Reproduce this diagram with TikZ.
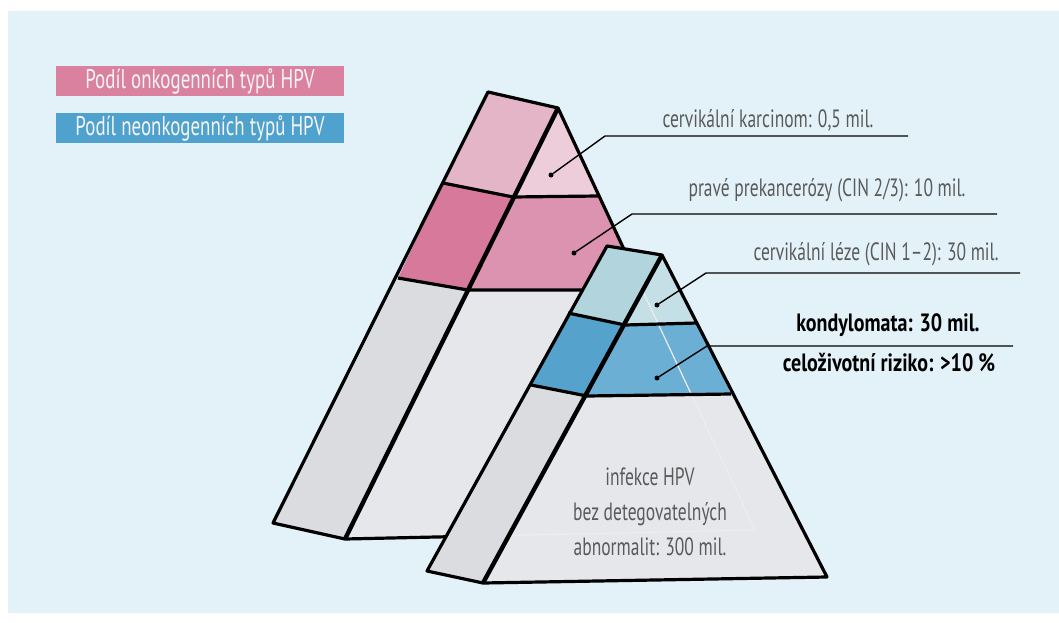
\documentclass[tikz,border=0pt]{standalone}
\usepackage{fontspec}
\setmainfont{PT Sans}[FakeStretch=0.70]
\newfontfamily\widefont{PT Sans}[FakeStretch=0.80]
\usepackage{tikz}

\definecolor{bgblue}{HTML}{E3F1F9}
\definecolor{legpink}{HTML}{D9819F}
\definecolor{legblue}{HTML}{4FA2CD}
\definecolor{pinkA}{HTML}{E3B5C7}
\definecolor{pinkAf}{HTML}{EDCDDA}
\definecolor{pinkB}{HTML}{D7799B}
\definecolor{pinkBf}{HTML}{DB93AF}
\definecolor{tealA}{HTML}{B2D4DC}
\definecolor{tealAf}{HTML}{C4DFE5}
\definecolor{blueB}{HTML}{55A2CC}
\definecolor{blueBf}{HTML}{6BAFD5}
\definecolor{graySide}{HTML}{DADCE0}
\definecolor{grayFront}{HTML}{E5E7EA}
\definecolor{labelgray}{HTML}{5A5A5A}

\begin{document}
\begin{tikzpicture}[x=1pt, y=-1pt, line join=round,
    outline/.style={draw=black, line width=3.2pt},
    ridge/.style={draw=black, line width=4.4pt},
    leader/.style={draw=black, line width=1.4pt},
    dot/.style={circle, fill=black, inner sep=0pt, minimum size=5pt},
    lbl/.style={text=labelgray, inner sep=0pt, font=\fontsize{25}{28}\selectfont},
    boldlbl/.style={text=black, inner sep=0pt, font=\widefont\fontsize{25}{28}\selectfont\bfseries},
    legend/.style={minimum width=288pt, minimum height=30pt, inner sep=0pt,
        text=white!92!gray, font=\fontsize{27}{30}\selectfont}]
    \useasboundingbox (0,0) rectangle (1059,623);
    \fill[white] (0,0) rectangle (1059,623);
    \fill[bgblue] (8,11) rectangle (1059,613);

    % Legend
    \node[legend, fill=legpink] (legOnko) at (200,81) {Podíl onkogenních typů HPV};
    \node[legend, fill=legblue] (legNeo) at (200,128) {Podíl neonkogenních typů HPV};

    % Large pyramid (oncogenic types)
    \fill[pinkA] (488,92) -- (558,108) -- (513,197) -- (443,183) -- cycle;
    \fill[pinkB] (443,183) -- (513,197) -- (468,290) -- (398,278) -- cycle;
    \fill[graySide] (398,278) -- (468,290) -- (345,539) -- (273,523) -- cycle;
    \fill[pinkAf] (558,108) -- (598,196) -- (513,197) -- cycle;
    \fill[pinkBf] (513,197) -- (598,196) -- (643,290) -- (468,290) -- cycle;
    \fill[grayFront] (468,290) -- (643,290) -- (755,530) -- (345,539) -- cycle;
    \draw[outline] (558,108) -- (488,92) -- (273,523) -- (345,539) -- (755,530) -- cycle;
    \draw[outline] (443,183) -- (513,197) -- (598,196);
    \draw[outline] (398,278) -- (468,290) -- (643,290);
    \draw[ridge] (558,108) -- (345,539);

    % Small pyramid (non-oncogenic types)
    \fill[tealA] (607,246) -- (662,255) -- (625,325) -- (568,313) -- cycle;
    \fill[blueB] (568,313) -- (625,325) -- (587,396) -- (531,385) -- cycle;
    \fill[graySide] (531,385) -- (587,396) -- (483,583) -- (427,571) -- cycle;
    \fill[tealAf] (662,255) -- (697,323) -- (625,325) -- cycle;
    \fill[blueBf] (625,325) -- (697,323) -- (731,394) -- (587,396) -- cycle;
    \fill[grayFront] (587,396) -- (731,394) -- (827,577) -- (483,583) -- cycle;
    % hidden edges of the large pyramid
    \begin{scope}
        \clip (662,255) -- (827,577) -- (483,583) -- cycle;
        \draw[black!7, line width=1.2pt] (600,200) -- (755,530) -- (345,539);
    \end{scope}
    \draw[outline] (662,255) -- (607,246) -- (427,571) -- (483,583) -- (827,577) -- cycle;
    \draw[outline] (568,313) -- (625,325) -- (697,323);
    \draw[outline] (531,385) -- (587,396) -- (731,394);
    \draw[ridge] (662,255) -- (483,583);

    % Labels
    \node[dot] (d1) at (551,175) {};
    \coordinate (e1) at (605,136);
    \coordinate (f1) at (908,136);
    \node[lbl] (t1) at (768,120) {cervikální karcinom: 0,5 mil.};
    \draw[leader] (d1) -- (e1) -- (f1);

    \node[dot] (d2) at (574,253) {};
    \coordinate (e2) at (632,214);
    \coordinate (f2) at (997,214);
    \node[lbl] (t2) at (827,190) {pravé prekancerózy (CIN 2/3): 10 mil.};
    \draw[leader] (d2) -- (e2) -- (f2);

    \node[dot] (d3) at (657,305) {};
    \coordinate (e3) at (706,273);
    \coordinate (f3) at (1020,273);
    \node[lbl] (t3) at (876,254) {cervikální léze (CIN 1–2): 30 mil.};
    \draw[leader] (d3) -- (e3) -- (f3);

    \node[dot] (d4) at (657,378) {};
    \coordinate (e4) at (707,346);
    \coordinate (f4) at (1013,346);
    \node[boldlbl] (t4) at (888,325) {kondylomata: 30 mil.};
    \node[boldlbl] (t5) at (889,363) {celoživotní riziko: >10 \%};
    \draw[leader] (d4) -- (e4) -- (f4);

    \node[lbl, align=center, font=\fontsize{25}{35}\selectfont] (tInf) at (650,512)
        {infekce HPV\\bez detegovatelných\\abnormalit: 300 mil.};
\end{tikzpicture}
\end{document}
